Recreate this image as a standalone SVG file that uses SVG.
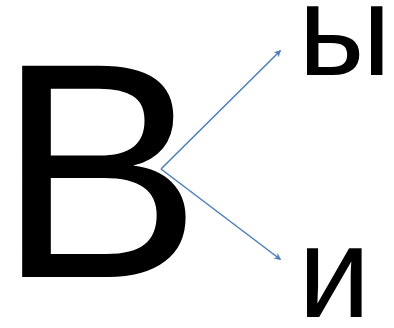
<svg xmlns="http://www.w3.org/2000/svg" width="394" height="328" viewBox="0 0 394 328">
<style>
.t{font-family:"Liberation Sans",Arial,sans-serif;fill:#000}
.c{stroke:#4A7EBB;stroke-width:1.5;fill:none;marker-end:url(#ah)}
</style>
<defs>
<marker id="ah" viewBox="0 0 10 10" refX="9" refY="5" markerWidth="7" markerHeight="7" markerUnits="userSpaceOnUse" orient="auto">
<path d="M0,0 L10,5 L0,10 L3,5 Z" fill="#4A7EBB"/>
</marker>
</defs>
<rect width="394" height="328" fill="#fff"/>
<g id="node-v"><text class="t" x="-3" y="277" font-size="307">В</text></g>
<g id="node-y"><text class="t" x="298" y="75" font-size="130">ы</text></g>
<g id="node-i"><text class="t" x="298" y="317" font-size="130">и</text></g>
<g id="connectors">
<path class="c" d="M161,169 L280.5,50.5"/>
<path class="c" d="M161,169 L280.5,259.5"/>
</g>
</svg>
